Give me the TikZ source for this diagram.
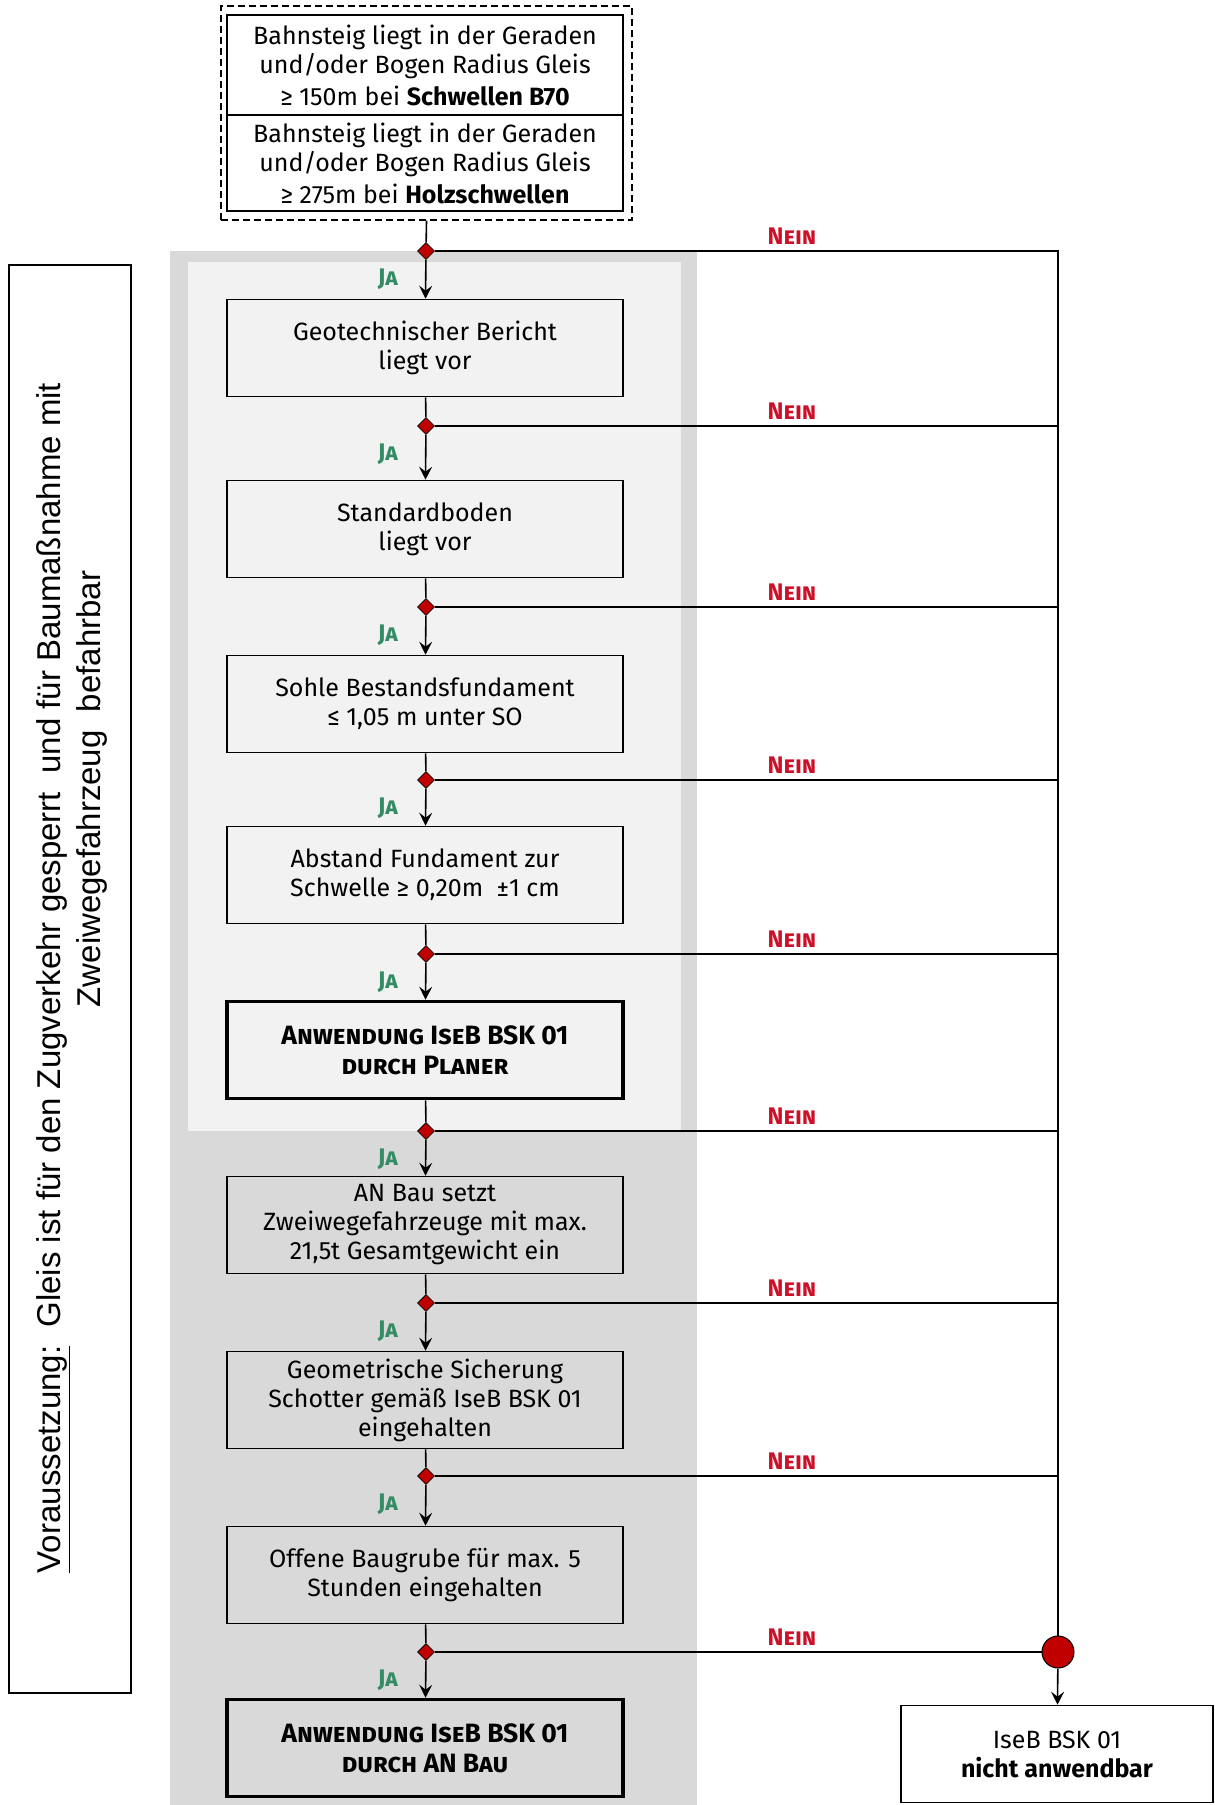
\documentclass[tikz,border=0pt]{standalone}
\usepackage{fontspec}
\setmainfont{Fira Sans}
\newfontfamily\arialfont{Liberation Sans}
\usepackage{xcolor}
\definecolor{dGray}{gray}{0.85}
\definecolor{lGray}{gray}{0.95}
\definecolor{jaGreen}{RGB}{52,140,100}
\definecolor{neinRed}{RGB}{204,16,40}
\definecolor{knotRed}{RGB}{192,0,0}
\usetikzlibrary{arrows.meta}
\usetikzlibrary{shapes.geometric}

\newcommand{\jaText}{\textsc{Ja}}
\newcommand{\neinText}{\textsc{Nein}}

\tikzset{
  stepbox/.style={draw, line width=1.6pt, minimum width=396pt, minimum height=97pt,
    inner sep=0pt, align=center, font=\fontsize{25}{29}\selectfont},
  endbox/.style={stepbox, line width=3.6pt, font=\bfseries\fontsize{26.5}{30}\selectfont},
  knot/.style={diamond, draw, fill=knotRed, line width=0.8pt, inner sep=0pt, minimum size=17pt},
  wire/.style={line width=1.6pt},
  flow/.style={wire, -{Stealth[length=13pt,width=13pt,inset=5pt]}},
  jalabel/.style={text=jaGreen, font=\bfseries\fontsize{24}{24}\selectfont},
  neinlabel/.style={text=neinRed, font=\bfseries\fontsize{24}{24}\selectfont},
}

\begin{document}
\begin{tikzpicture}[x=1pt,y=-1pt]
        \useasboundingbox (0,0) rectangle (1215,1805);
        % shaded areas
        \fill [dGray] (170,251) rectangle (697,1805);
        \fill [lGray] (188,262) rectangle (681,1131);
        % note on the left
        \draw [line width=1.6pt] (9,265) rectangle (131,1693);
        \node (note) at (72,978) [rotate=90, align=center, font=\arialfont\fontsize{33}{40}\selectfont]
          {\underline{Voraussetzung:}\ \ Gleis ist für den Zugverkehr gesperrt\ \ und für Baumaßnahme mit\\
           \hspace*{378pt}Zweiwegefahrzeug\ \ befahrbar};
        % start condition
        \node [draw, dashed, line width=1.4pt, dash pattern=on 7pt off 4pt, minimum width=411pt, minimum height=214pt] (frame) at (426.5,113) {};
        \node [stepbox, fill=white, minimum height=100pt] (t1) at (425,65)
          {Bahnsteig liegt in der Geraden\\und/oder Bogen Radius Gleis\\[3pt]≥ 150m bei \textbf{Schwellen B70}};
        \node [stepbox, fill=white, minimum height=96pt] (t2) at (425,163)
          {Bahnsteig liegt in der Geraden\\und/oder Bogen Radius Gleis\\[3pt]≥ 275m bei \textbf{Holzschwellen}};
        % steps
        \node [stepbox] (b1) at (425,348) {Geotechnischer Bericht\\liegt vor};
        \node [stepbox] (b2) at (425,529) {Standardboden\\liegt vor};
        \node [stepbox] (b3) at (425,704) {Sohle Bestandsfundament\\≤ 1,05 m unter SO};
        \node [stepbox] (b4) at (425,875) {Abstand Fundament zur\\Schwelle ≥ 0,20m\ \ ±1 cm};
        \node [endbox] (b5) at (425,1050) {\textsc{Anwendung IseB BSK 01}\\\textsc{durch Planer}};
        \node [stepbox] (b6) at (425,1225) {AN Bau setzt\\Zweiwegefahrzeuge mit max.\\21,5t Gesamtgewicht ein};
        \node [stepbox] (b7) at (425,1400) {Geometrische Sicherung\\Schotter gemäß IseB BSK 01\\eingehalten};
        \node [stepbox] (b8) at (425,1575) {Offene Baugrube für max. 5\\Stunden eingehalten};
        \node [endbox] (b9) at (425,1748) {\textsc{Anwendung IseB BSK 01}\\\textsc{durch AN Bau}};
        \node [stepbox, fill=white, minimum width=312pt] (fin) at (1057,1754) {IseB BSK 01\\\textbf{nicht anwendbar}};
        % branch points
        \node [knot] (k1) at (426,251) {};
        \node [knot] (k2) at (426,426) {};
        \node [knot] (k3) at (426,607) {};
        \node [knot] (k4) at (426,780) {};
        \node [knot] (k5) at (426,954) {};
        \node [knot] (k6) at (426,1131) {};
        \node [knot] (k7) at (426,1303) {};
        \node [knot] (k8) at (426,1476) {};
        \node [knot] (k9) at (426,1652) {};
        \node [circle, draw, fill=knotRed, line width=1pt, minimum size=32pt, inner sep=0pt] (merge) at (1058,1652) {};
        \coordinate (r1) at (1058,251);
        % yes path
        \draw [wire] (frame.south) -- (k1);
        \draw [flow] (k1) -- (b1);
        \draw [wire] (b1) -- (k2);
        \draw [flow] (k2) -- (b2);
        \draw [wire] (b2) -- (k3);
        \draw [flow] (k3) -- (b3);
        \draw [wire] (b3) -- (k4);
        \draw [flow] (k4) -- (b4);
        \draw [wire] (b4) -- (k5);
        \draw [flow] (k5) -- (b5);
        \draw [wire] (b5) -- (k6);
        \draw [flow] (k6) -- (b6);
        \draw [wire] (b6) -- (k7);
        \draw [flow] (k7) -- (b7);
        \draw [wire] (b7) -- (k8);
        \draw [flow] (k8) -- (b8);
        \draw [wire] (b8) -- (k9);
        \draw [flow] (k9) -- (b9);
        % no path
        \draw [wire] (k1) -- (r1) -- (merge);
        \draw [wire] (k2) -- (k2 -| r1);
        \draw [wire] (k3) -- (k3 -| r1);
        \draw [wire] (k4) -- (k4 -| r1);
        \draw [wire] (k5) -- (k5 -| r1);
        \draw [wire] (k6) -- (k6 -| r1);
        \draw [wire] (k7) -- (k7 -| r1);
        \draw [wire] (k8) -- (k8 -| r1);
        \draw [wire] (k9) -- (merge);
        \draw [flow] (merge) -- (fin);
        % labels
        \node [jalabel] (ja1) at (388,279) {\jaText};
        \node [jalabel] (ja2) at (388,454) {\jaText};
        \node [jalabel] (ja3) at (388,635) {\jaText};
        \node [jalabel] (ja4) at (388,808) {\jaText};
        \node [jalabel] (ja5) at (388,982) {\jaText};
        \node [jalabel] (ja6) at (388,1159) {\jaText};
        \node [jalabel] (ja7) at (388,1331) {\jaText};
        \node [jalabel] (ja8) at (388,1504) {\jaText};
        \node [jalabel] (ja9) at (388,1680) {\jaText};
        \node [neinlabel] (no1) at (792,236) {\neinText};
        \node [neinlabel] (no2) at (792,411) {\neinText};
        \node [neinlabel] (no3) at (792,592) {\neinText};
        \node [neinlabel] (no4) at (792,765) {\neinText};
        \node [neinlabel] (no5) at (792,939) {\neinText};
        \node [neinlabel] (no6) at (792,1116) {\neinText};
        \node [neinlabel] (no7) at (792,1288) {\neinText};
        \node [neinlabel] (no8) at (792,1461) {\neinText};
        \node [neinlabel] (no9) at (792,1637) {\neinText};
      \end{tikzpicture}
\end{document}
